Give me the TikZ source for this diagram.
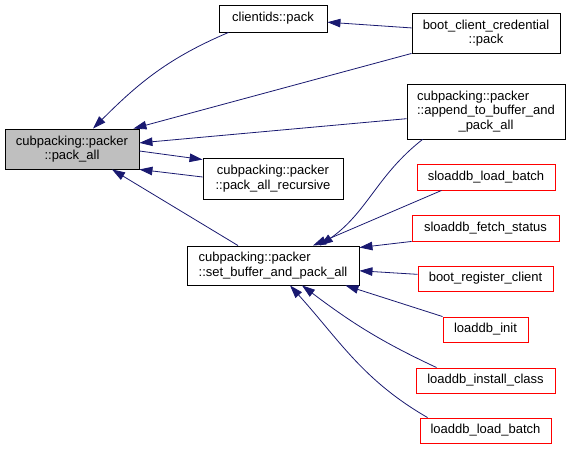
\documentclass[tikz,border=0pt]{standalone}
\usepackage{fontspec}
\setmainfont{Liberation Sans}
\usepackage{xcolor}
\usepackage{tikz}
\usetikzlibrary{shapes,arrows,arrows.meta}
\definecolor{calledge}{RGB}{25,25,112}
\definecolor{rootgray}{RGB}{191,191,191}
\tikzstyle{fnbox} = [rectangle, draw=black, fill=white, line width=0.9pt, align=center, inner sep=0pt, font=\fontsize{13}{14.5}\selectfont]
\tikzstyle{rootbox} = [fnbox, fill=rootgray]
\tikzstyle{extbox} = [fnbox, draw=red]
\tikzstyle{callarrow} = [draw=calledge, line width=0.8pt, -{Triangle[length=13pt,width=8.5pt]}]

\begin{document}
\begin{tikzpicture}[x=1pt, y=-1pt]
                \useasboundingbox (0,0) rectangle (571,449);
                \node[rootbox, minimum width=134pt, minimum height=40pt] (packall) at (72,149) {
                    cubpacking::packer \\
                    ::pack\_all
                };
                \node[fnbox, minimum width=108pt, minimum height=27pt] (clientids) at (273,18.5) {clientids::pack};
                \node[fnbox, minimum width=140pt, minimum height=41pt] (recursive) at (273,178.5) {
                    cubpacking::packer \\
                    ::pack\_all\_recursive
                };
                \node[fnbox, minimum width=172pt, minimum height=39pt] (setbuffer) at (273,265.5) {
                    \rlap{cubpacking::packer}\phantom{::set\_buffer\_and\_pack\_all} \\
                    ::set\_buffer\_and\_pack\_all
                };
                \node[fnbox, minimum width=148pt, minimum height=40pt] (bootcred) at (486,33) {
                    boot\_client\_credential \\
                    ::pack
                };
                \node[fnbox, minimum width=158pt, minimum height=55pt] (append) at (486,111.5) {
                    \rlap{cubpacking::packer}\phantom{::append\_to\_buffer\_and} \\
                    ::append\_to\_buffer\_and \\
                    \_pack\_all
                };
                \node[extbox, minimum width=138pt, minimum height=26pt] (sloadbatch) at (486,177) {sloaddb\_load\_batch};
                \node[extbox, minimum width=147pt, minimum height=26pt] (fetchstatus) at (485.5,228) {sloaddb\_fetch\_status};
                \node[extbox, minimum width=135pt, minimum height=25pt] (bootreg) at (485.5,278.5) {boot\_register\_client};
                \node[extbox, minimum width=85pt, minimum height=25pt] (loaddbinit) at (485.5,329.5) {loaddb\_init};
                \node[extbox, minimum width=139pt, minimum height=25pt] (installclass) at (485.5,380.5) {loaddb\_install\_class};
                \node[extbox, minimum width=131pt, minimum height=25pt] (loadbatch) at (485.5,430.5) {loaddb\_load\_batch};

                \draw[callarrow] ([xshift=10pt]clientids.south west) to[out=203, in=45] ([xshift=21pt]packall.north);
                \draw[callarrow] (bootcred) -- (clientids);
                \draw[callarrow] (bootcred.south west) -- ([xshift=-6pt]packall.north east);
                \draw[callarrow] (append) -- (packall);
                \draw[callarrow] ([yshift=-2pt]packall.east) -- ([yshift=-2pt]recursive.north west);
                \draw[callarrow] ([yshift=1.5pt]recursive.west) -- (packall.south east);
                \draw[callarrow] ([xshift=-35pt]setbuffer.north) -- ([xshift=40pt]packall.south);
                \draw[callarrow] ([xshift=16pt]append.south west) to[out=218, in=35] ([xshift=47pt]setbuffer.north);
                \draw[callarrow] ([xshift=25pt]sloadbatch.south west) -- ([xshift=40pt]setbuffer.north);
                \draw[callarrow] (fetchstatus.south west) -- ([yshift=-2pt]setbuffer.north east);
                \draw[callarrow] (bootreg) -- (setbuffer);
                \draw[callarrow] (loaddbinit.north west) -- ([xshift=-14pt]setbuffer.south east);
                \draw[callarrow] ([xshift=21pt]installclass.north west) to[out=155, in=-37] ([xshift=29pt]setbuffer.south);
                \draw[callarrow] ([xshift=8pt]loadbatch.north west) to[out=150, in=-48] ([xshift=17pt]setbuffer.south);
            \end{tikzpicture}
\end{document}
